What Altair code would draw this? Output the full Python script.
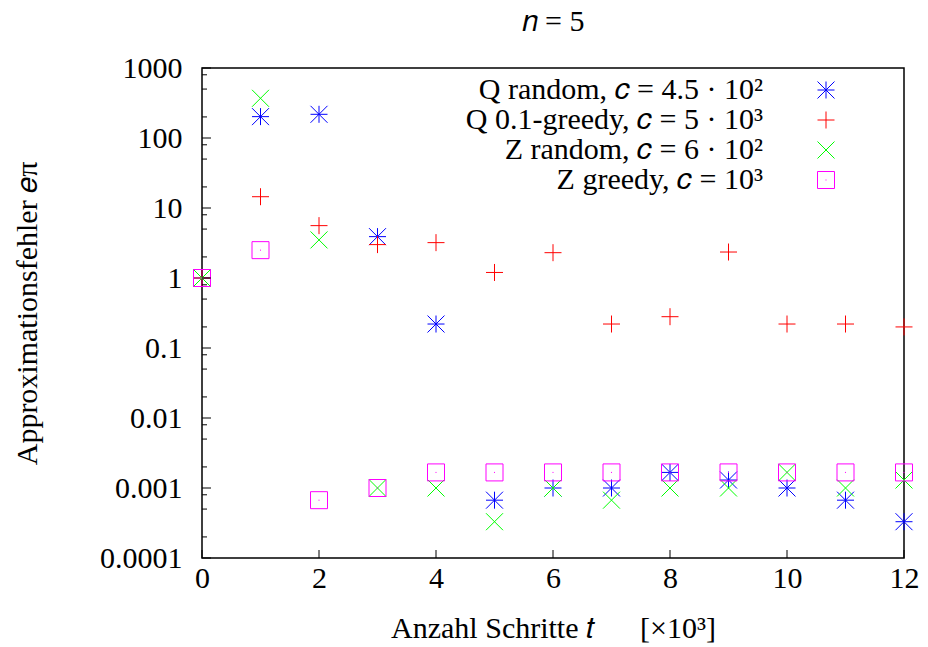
import altair as alt
import pandas as pd

# ---- data ----
steps = list(range(13))  # Anzahl Schritte t [x10^3]
series = [
    "Q random, 𝑐 = 4.5 · 10²",
    "Q 0.1-greedy, 𝑐 = 5 · 10³",
    "Z random, 𝑐 = 6 · 10²",
    "Z greedy, 𝑐 = 10³",
]
q_random = [1, 202, 218, 3.9, 0.22, 0.00067, 0.001, 0.001, 0.00167, 0.0013, 0.001, 0.00067, 0.00033]
q_greedy = [1, 14.5, 5.6, 3.0, 3.2, 1.2, 2.3, 0.22, 0.28, 2.35, 0.22, 0.22, 0.20]
z_random = [1, 369, 3.5, 0.001, 0.001, 0.00033, 0.001, 0.00067, 0.001, 0.001, 0.00167, 0.001, 0.0013]
z_greedy = [1, 2.5, 0.00067, 0.001, 0.00167, 0.00167, 0.00167, 0.00167, 0.00167, 0.00167, 0.00167, 0.00167, 0.00167]

x_ticks = [0, 2, 4, 6, 8, 10, 12]
y_major = [0.0001, 0.001, 0.01, 0.1, 1, 10, 100, 1000]
y_minor = [m * d for d in [0.0001, 0.001, 0.01, 0.1, 1, 10, 100] for m in (2, 5, 8)]

colors = ["#0000ff", "#ff0000", "#00ff00", "#ff00ff"]
shapes = [
    "M-1,0L1,0M0,-1L0,1M-1,-1L1,1M-1,1L1,-1",
    "M-1,0L1,0M0,-1L0,1",
    "M-1,-1L1,1M-1,1L1,-1",
    "M-1,-1L1,-1L1,1L-1,1Z M-0.06,0L0.06,0",
]

rows = []
for name, vals in zip(series, [q_random, q_greedy, z_random, z_greedy]):
    for t, v in zip(steps, vals):
        rows.append({"series": name, "t": t, "e": v})
df = pd.DataFrame(rows)

FONT = "Liberation Serif"
FS = 30
W, H = 702, 490

x_scale = alt.Scale(domain=[0, 12], nice=False, zero=False)
y_scale = alt.Scale(type="log", domain=[0.0001, 1000], nice=False)

x_axis = alt.Axis(values=x_ticks, labelPadding=5,
                  title="Anzahl Schritte 𝑡\u2003\u2002[×10³]", titleY=79, titleBaseline="alphabetic")
y_axis = alt.Axis(values=y_major, format="~g", labelPadding=20,
                  title="Approximationsfehler 𝑒π", titleX=-166, titleY=H / 2,
                  titleBaseline="alphabetic")

legend = alt.Legend(
    title=None, orient="none", legendX=609, legendY=7, padding=0,
    labelAlign="right", labelOffset={"expr": "-78"}, labelLimit=600,
    rowPadding={"expr": "-2.2"}, symbolSize=289, symbolStrokeWidth=1,
)

points = alt.Chart(df).mark_point(filled=False, size=289, strokeWidth=1, opacity=1).encode(
    x=alt.X("t:Q", scale=x_scale, axis=x_axis),
    y=alt.Y("e:Q", scale=y_scale, axis=y_axis),
    color=alt.Color("series:N", scale=alt.Scale(domain=series, range=colors), sort=series, legend=legend),
    shape=alt.Shape("series:N", scale=alt.Scale(domain=series, range=shapes), sort=series, legend=legend),
)

ymaj = alt.Chart(pd.DataFrame({"e": y_major})).mark_rule(color="black", strokeWidth=1).encode(
    y=alt.Y("e:Q", scale=y_scale, axis=y_axis), x=alt.value(0), x2=alt.value(9))
ymin = alt.Chart(pd.DataFrame({"e": y_minor})).mark_rule(color="black", strokeWidth=1).encode(
    y=alt.Y("e:Q", scale=y_scale, axis=y_axis), x=alt.value(0), x2=alt.value(5))
xmaj = alt.Chart(pd.DataFrame({"t": x_ticks})).mark_rule(color="black", strokeWidth=1).encode(
    x=alt.X("t:Q", scale=x_scale, axis=x_axis), y=alt.value(H), y2=alt.value(H - 8))

chart = alt.layer(points, ymaj, ymin, xmaj).properties(
    width=W, height=H,
    autosize=alt.AutoSizeParams(type="none"),
    padding={"left": 202, "top": 68, "right": 24, "bottom": 89},
    title=alt.TitleParams("𝑛 = 5", offset=16, font=FONT, fontSize=FS, fontWeight="normal", color="black"),
).configure(background="white").configure_view(
    stroke="black", strokeWidth=1.5
).configure_axis(
    ticks=False, domain=False, grid=False, labelFlush=False,
    labelFont=FONT, labelFontSize=FS, labelColor="black",
    titleFont=FONT, titleFontSize=FS, titleFontWeight="normal", titleColor="black",
).configure_legend(
    labelFont=FONT, labelFontSize=FS, labelColor="black",
).configure_title(
    font=FONT, fontSize=FS, fontWeight="normal", color="black", anchor="middle",
)

chart.save("out.html", embed_options={"renderer": "svg", "actions": False})
